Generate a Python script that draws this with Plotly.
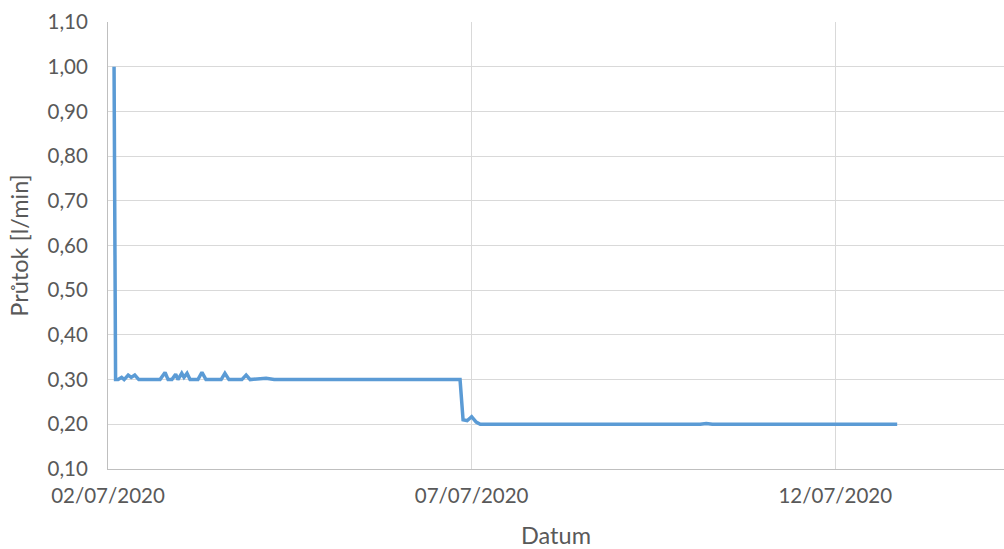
import plotly.graph_objects as go

# Flow measurements (timestamp, flow in l/min)
times = [
    "2020-07-02 02:00", "2020-07-02 02:30", "2020-07-02 03:20", "2020-07-02 04:30",
    "2020-07-02 05:20", "2020-07-02 06:40", "2020-07-02 07:40", "2020-07-02 08:50",
    "2020-07-02 10:10", "2020-07-02 17:10", "2020-07-02 18:50", "2020-07-02 19:50",
    "2020-07-02 21:05", "2020-07-02 22:20", "2020-07-02 23:05", "2020-07-03 00:20",
    "2020-07-03 01:05", "2020-07-03 02:05", "2020-07-03 03:05", "2020-07-03 05:40",
    "2020-07-03 07:00", "2020-07-03 08:20", "2020-07-03 13:20", "2020-07-03 14:35",
    "2020-07-03 15:55", "2020-07-03 20:10", "2020-07-03 21:35", "2020-07-03 22:55",
    "2020-07-04 04:10", "2020-07-04 05:30", "2020-07-04 06:50", "2020-07-06 20:10",
    "2020-07-06 21:10", "2020-07-06 22:30", "2020-07-07 00:00", "2020-07-07 01:30",
    "2020-07-07 02:50", "2020-07-10 03:25", "2020-07-10 05:25", "2020-07-10 07:25",
    "2020-07-12 20:25",
]
flow = [
    1.00, 0.30, 0.30, 0.305,
    0.30, 0.31, 0.305, 0.31,
    0.30, 0.30, 0.316, 0.30,
    0.30, 0.312, 0.30, 0.314,
    0.305, 0.314, 0.30, 0.30,
    0.316, 0.30, 0.30, 0.314,
    0.30, 0.30, 0.31, 0.30,
    0.303, 0.302, 0.30, 0.30,
    0.21, 0.208, 0.217, 0.205,
    0.20, 0.20, 0.202, 0.20,
    0.20,
]

x_title = "Datum"
y_title = "Průtok [l/min]"

text_color = "#595959"
grid_color = "#D9D9D9"
font_family = "Lato, 'Open Sans', sans-serif"

fig = go.Figure(
    go.Scatter(
        x=times,
        y=flow,
        mode="lines",
        line=dict(color="#5B9BD5", width=3.5),
        hoverinfo="x+y",
    )
)

fig.update_layout(
    width=1004,
    height=549,
    margin=dict(l=108, r=0, t=22, b=80),
    paper_bgcolor="white",
    plot_bgcolor="white",
    separators=", ",
    showlegend=False,
    font=dict(family=font_family, color=text_color, size=20.5),
)

fig.update_xaxes(
    type="date",
    range=["2020-07-02 00:00", "2020-07-14 07:40"],
    tick0="2020-07-02",
    dtick=5 * 24 * 3600 * 1000,
    tickformat="%d/%m/%Y",
    showgrid=True,
    gridcolor=grid_color,
    gridwidth=1,
    showline=True,
    linecolor="#BFBFBF",
    linewidth=1,
    ticks="",
    ticklabelstandoff=8,
    automargin=False,
    title=dict(text=x_title, font=dict(size=23.5, color=text_color), standoff=31),
    zeroline=False,
)

fig.update_yaxes(
    range=[0.10, 1.10],
    tick0=0.10,
    dtick=0.10,
    tickformat=".2f",
    showgrid=True,
    gridcolor=grid_color,
    gridwidth=1,
    showline=True,
    linecolor="#BFBFBF",
    linewidth=1,
    ticks="",
    ticklabelstandoff=15,
    automargin=False,
    title=dict(text=y_title, font=dict(size=23.5, color=text_color), standoff=12),
    zeroline=False,
)

fig.write_html("out.html")
